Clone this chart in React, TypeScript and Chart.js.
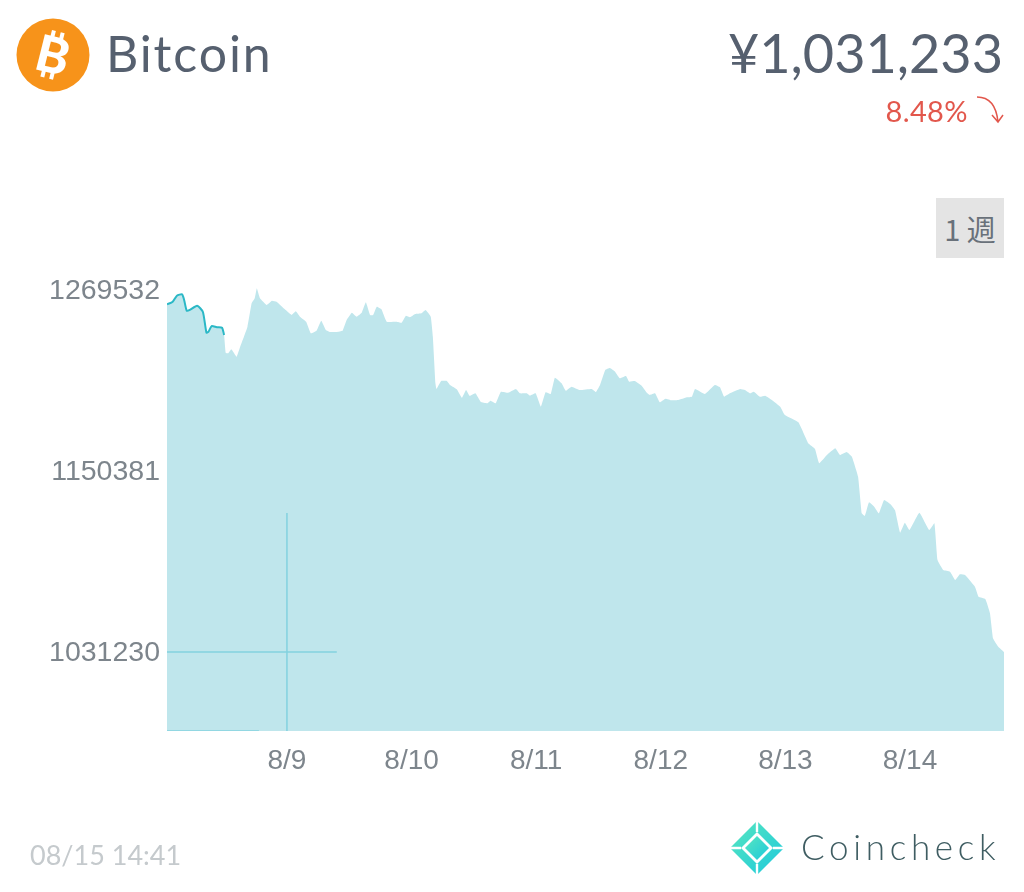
import React, { useEffect, useRef } from "react";
import { Chart, registerables } from "chart.js";

Chart.register(...registerables);

// Hours relative to 8/9 00:00, and BTC/JPY prices
const recentHours = [-23.1, -22.0, -21.2, -20.2, -19.8, -19.3, -18.7, -17.3, -16.2, -15.5, -15.1, -14.5, -13.5, -12.5, -12.1];
const recentPrices = [1260100, 1261800, 1265800, 1266700, 1263000, 1255900, 1256400, 1259200, 1255200, 1241400, 1242100, 1245800, 1245000, 1244700, 1239900];

const hoursA = [-11.8, -11.3, -10.7, -9.7, -9.1, -8.4, -7.6, -6.8, -6.2, -5.8, -5.2, -3.9, -2.9, -2.0, -0.4, 0.9, 1.7, 2.5, 3.7, 4.6, 5.7, 6.6, 7.5, 8.3, 9.6, 10.7, 11.5, 12.5, 13.4, 14.4, 15.2, 16.0, 16.6, 17.3, 18.2, 19.2, 21.1, 22.1, 22.9, 23.7, 24.7, 25.9, 26.7, 27.7, 28.1, 28.6, 28.8, 29.7, 30.8, 31.4];
const pricesA = [1228300, 1227900, 1230500, 1225600, 1231200, 1237700, 1245400, 1260800, 1264100, 1270700, 1264100, 1259700, 1262500, 1261800, 1256800, 1253100, 1255500, 1252000, 1248700, 1241000, 1242700, 1249300, 1243200, 1241900, 1241900, 1242700, 1249800, 1254600, 1252000, 1254600, 1261400, 1253100, 1253100, 1258500, 1256800, 1248700, 1248700, 1248000, 1252600, 1251600, 1253700, 1254200, 1256400, 1252000, 1238800, 1208100, 1204400, 1209600, 1209600, 1207000];

const hoursB = [32.7, 33.7, 34.5, 35.2, 36.3, 37.3, 38.6, 39.2, 40.2, 41.2, 42.6, 44.1, 44.9, 46.2, 46.8, 47.9, 48.9, 49.8, 50.8, 51.6, 52.9, 53.7, 54.8, 56.4, 58.7, 59.5, 60.3, 61.3, 62.2, 63.2, 64.1, 65.3, 65.9, 67.0, 68.3, 69.4, 69.9, 70.9, 71.8, 72.9, 74.1, 75.4, 77.0, 78.0, 78.6, 80.5, 82.4, 83.4, 84.2, 85.3];
const pricesB = [1204200, 1198600, 1203700, 1199800, 1201500, 1196000, 1195000, 1196700, 1195000, 1202600, 1201900, 1204400, 1201500, 1201500, 1200000, 1201500, 1192700, 1202200, 1201100, 1211800, 1208100, 1203200, 1205900, 1203700, 1204400, 1202400, 1207000, 1216900, 1218200, 1215800, 1211400, 1212900, 1209200, 1209600, 1206500, 1201500, 1200400, 1201500, 1195600, 1198000, 1196900, 1197100, 1198900, 1199300, 1204400, 1201100, 1207000, 1205500, 1199300, 1201500];

const hoursC = [87.3, 88.2, 89.2, 89.9, 91.1, 92.1, 93.4, 95.0, 95.9, 98.5, 100.4, 101.7, 102.5, 104.0, 105.6, 106.5, 107.8, 108.8, 110.0, 110.7, 111.3, 112.1, 113.1, 114.0, 115.0, 116.2, 117.1, 118.1, 119.0, 119.9, 121.8, 123.7, 124.7, 125.3, 126.4, 127.7, 128.7, 129.6, 130.6, 132.5, 133.2, 134.5, 135.4, 136.0, 137.0, 138.1];
const pricesC = [1204400, 1203700, 1201500, 1202600, 1199300, 1200000, 1197100, 1192700, 1187200, 1182400, 1168600, 1164900, 1155500, 1160900, 1165300, 1160900, 1162900, 1159800, 1146600, 1122500, 1120800, 1129800, 1126900, 1122500, 1131300, 1128700, 1124700, 1109800, 1116300, 1111500, 1122900, 1111500, 1116000, 1091800, 1085200, 1084100, 1078600, 1082400, 1081900, 1074200, 1067600, 1066100, 1056700, 1040200, 1034700, 1031233];

const yTicks = [1269532, 1150381, 1031230];
const xTickHours = [0, 24, 48, 72, 96, 120];
const xTickLabels = ["8/9", "8/10", "8/11", "8/12", "8/13", "8/14"];

const X_MIN = -23.1;
const X_MAX = 138.1;
const Y_MIN = 979225;
const Y_MAX = 1276128;

// Stray guide lines left on the chart
const guideH = { hours: [-23.1, 9.6], prices: [1031230, 1031230] };
const guideV = { hours: [0, 0], prices: [979225, 1122700] };
const guideBase = { hours: [-23.1, -5.4], prices: [979225, 979225] };

const toPoints = (h: number[], p: number[]) => h.map((x, i) => ({ x, y: p[i] }));

const allHours = [...recentHours, ...hoursA, ...hoursB, ...hoursC];
const allPrices = [...recentPrices, ...pricesA, ...pricesB, ...pricesC];

const FILL = "#bfe6ec";
const GUIDE = "#83d2df";
const LINE = "#2bb8c6";
const LABEL = "#7d858c";

export default function App() {
  const ref = useRef<HTMLCanvasElement | null>(null);

  useEffect(() => {
    document.body.style.margin = "0";
    document.body.style.background = "#fff";
    const guide = (g: { hours: number[]; prices: number[] }) => ({
      data: toPoints(g.hours, g.prices),
      borderColor: GUIDE,
      borderWidth: 1.5,
      pointRadius: 0,
      fill: false,
    });
    const chart = new Chart(ref.current as HTMLCanvasElement, {
      type: "line",
      data: {
        datasets: [
          { data: toPoints(recentHours, recentPrices), borderColor: LINE, borderWidth: 2, pointRadius: 0, fill: false, tension: 0.2 },
          guide(guideH),
          guide(guideV),
          guide(guideBase),
          { data: toPoints(allHours, allPrices), borderWidth: 0, borderColor: "rgba(0,0,0,0)", backgroundColor: FILL, pointRadius: 0, fill: "start", tension: 0.1 },
        ],
      },
      options: {
        animation: false,
        responsive: false,
        layout: { padding: { left: 0, right: 20, top: 280, bottom: 0 } },
        plugins: { legend: { display: false }, tooltip: { enabled: false } },
        scales: {
          x: {
            type: "linear",
            min: X_MIN,
            max: X_MAX,
            border: { display: false },
            grid: { display: false, drawTicks: false },
            afterFit: (s: any) => { s.height = 161; },
            afterBuildTicks: (s: any) => { s.ticks = xTickHours.map((value) => ({ value })); },
            ticks: {
              autoSkip: false,
              maxRotation: 0,
              padding: 13,
              color: LABEL,
              font: { family: "Liberation Sans", size: 28 },
              callback: (v: any) => xTickLabels[xTickHours.indexOf(Number(v))] ?? "",
            },
          },
          y: {
            min: Y_MIN,
            max: Y_MAX,
            border: { display: false },
            grid: { display: false, drawTicks: false },
            afterFit: (s: any) => { s.width = 167; },
            afterBuildTicks: (s: any) => { s.ticks = yTicks.map((value) => ({ value })); },
            ticks: {
              autoSkip: false,
              padding: 7,
              labelOffset: 1.5,
              color: LABEL,
              font: { family: "Liberation Sans", size: 28.5 },
              callback: (v: any) => String(v),
            },
          },
        },
      },
    } as any);
    return () => chart.destroy();
  }, []);

  const abs = (left: number | undefined, top: number, extra: React.CSSProperties = {}): React.CSSProperties => ({
    position: "absolute",
    left,
    top,
    whiteSpace: "nowrap",
    lineHeight: 1,
    ...extra,
  });

  return (
    <div style={{ position: "relative", width: 1024, height: 892, overflow: "hidden", background: "#fff" }}>
      <canvas ref={ref} width={1024} height={892} style={{ position: "absolute", left: 0, top: 0, display: "block" }} />

      <svg width={90} height={100} style={{ position: "absolute", left: 8, top: 5 }}>
        <circle cx={45} cy={50} r={36.5} fill="#f7931a" />
        <g transform="rotate(14 45 50)" fill="#fff">
          <text x={45} y={68} textAnchor="middle" fontFamily="Lato" fontWeight={900} fontSize={50}>B</text>
          <rect x={38} y={26} width={4} height={8} />
          <rect x={47} y={26} width={4} height={8} />
          <rect x={38} y={66} width={4} height={8} />
          <rect x={47} y={66} width={4} height={8} />
        </g>
      </svg>

      <div style={abs(106, 28, { fontFamily: "Lato", fontSize: 50, letterSpacing: 1.9, color: "#56606f" })}>Bitcoin</div>
      <div style={abs(undefined, 26, { right: 21, fontFamily: "Lato", fontSize: 54, color: "#56606f" })}>¥1,031,233</div>
      <div style={abs(undefined, 96, { right: 56, fontFamily: "Lato", fontSize: 29, letterSpacing: 0.4, color: "#e2574c" })}>8.48%</div>
      <svg width={32} height={32} style={{ position: "absolute", left: 975, top: 95 }}>
        <path d="M2 2 C 12 2, 21 7, 23 27 M17 20 L23 27 L28 20" fill="none" stroke="#e2574c" strokeWidth={1.5} />
      </svg>

      <div style={{ position: "absolute", left: 936, top: 198, width: 68, height: 60, background: "#e4e4e4", color: "#69717a", fontFamily: "Noto Sans CJK JP", fontSize: 29, lineHeight: "60px", textAlign: "center" }}>1 週</div>

      <div style={abs(30, 841, { fontFamily: "Lato", fontSize: 27, color: "#c5cacd" })}>08/15 14:41</div>

      <svg width={60} height={60} style={{ position: "absolute", left: 727, top: 818 }}>
        <defs>
          <linearGradient id="cc" x1="0" y1="0" x2="1" y2="1">
            <stop offset="0" stopColor="#58e6bf" />
            <stop offset="1" stopColor="#1cc9dc" />
          </linearGradient>
        </defs>
        <polygon points="30,3 57,30 30,57 3,30" fill="url(#cc)" />
        <polygon points="30,14 46,30 30,46 14,30" fill="#fff" />
        <polygon points="30,18 42,30 30,42 18,30" fill="url(#cc)" />
        <path d="M30 3 V14 M30 46 V57 M3 30 H14 M46 30 H57" stroke="#fff" strokeWidth={2.4} />
      </svg>
      <div style={abs(801, 829, { fontFamily: "Lato", fontWeight: 300, fontSize: 35, letterSpacing: 4.7, color: "#3f5d62" })}>Coincheck</div>
    </div>
  );
}
